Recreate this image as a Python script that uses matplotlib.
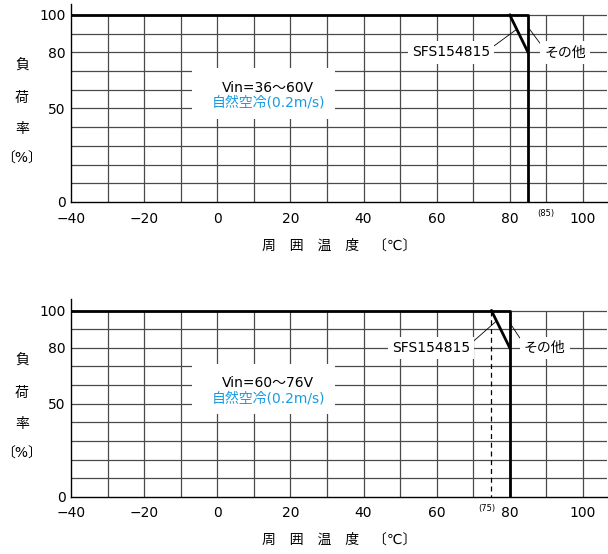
import matplotlib
matplotlib.use('Agg')
import matplotlib.pyplot as plt
from matplotlib.patches import Rectangle

plt.rcParams['font.family'] = ['DejaVu Sans', 'Noto Sans CJK JP']

# データ（読み取り値）
x_ticks = [-40, -20, 0, 20, 40, 60, 80, 100]
x_ticklabels = ['−40', '−20', '0', '20', '40', '60', '80', '100']
y_ticks = [0, 50, 80, 100]
y_ticklabels = ['0', '50', '80', '100']

# 上段: Vin=36~60V
other1_t = [-40, 85, 85]
other1_load = [100, 100, 0]
sfs1_t = [80, 85]
sfs1_load = [100, 80]

# 下段: Vin=60~76V
other2_t = [-40, 80, 80]
other2_load = [100, 100, 0]
sfs2_t = [75, 80]
sfs2_load = [100, 80]
dash2_t = [75, 75]
dash2_load = [100, 0]

grid_x = list(range(-40, 101, 10))
grid_y = list(range(0, 101, 10))

BLUE = '#1a9be0'
GRID = '#4a4a4a'

fig = plt.figure(figsize=(6.08, 5.54), dpi=100)
ax1 = fig.add_axes([0.1168, 0.6354, 0.8816, 0.3578])
ax2 = fig.add_axes([0.1168, 0.1034, 0.8816, 0.3560])


def setup(ax, vin, sub_t, sub_label, sfs_pos, sfs_tip, oth_pos, oth_tip):
    ax.set_xlim(-40, 106.6)
    ax.set_ylim(0, 106)
    for s in ['top', 'right']:
        ax.spines[s].set_visible(False)
    ax.spines['left'].set_linewidth(1.0)
    ax.spines['bottom'].set_linewidth(1.0)
    ax.tick_params(length=0, labelsize=10)
    ax.tick_params(axis='x', pad=7)
    ax.tick_params(axis='y', pad=4)
    ax.set_xticks(x_ticks)
    ax.set_xticklabels(x_ticklabels)
    ax.set_yticks(y_ticks)
    ax.set_yticklabels(y_ticklabels)

    # グリッド
    ax.hlines(grid_y[1:], -40, 106.6, color=GRID, lw=0.9, zorder=1)
    ax.vlines(grid_x[1:], 0, 100, color=GRID, lw=0.9, zorder=1)

    # 条件テキストの白抜き
    ax.add_patch(Rectangle((-6.9, 44.5), 39.1, 27.0, facecolor='white',
                           edgecolor='none', zorder=3))
    ax.text(13.9, 61, vin, ha='center', va='center', fontsize=10, zorder=4)
    ax.text(13.9, 53, '自然空冷(0.2m/s)', ha='center', va='center',
            fontsize=10, color=BLUE, zorder=4)

    # 軸ラベル
    for ch, yy in zip(['負', '荷', '率', '〔%〕'], [73.5, 55.7, 39.0, 23.0]):
        ax.text(-53.4, yy, ch, ha='center', va='center', fontsize=10,
                clip_on=False)
    ax.set_xlabel('周　囲　温　度　〔℃〕', fontsize=10, labelpad=9)

    ax.text(sub_t, -4.0, sub_label, ha='center', va='top', fontsize=6)

    # 注記
    ax.annotate('SFS154815', xy=sfs_tip, xytext=sfs_pos, ha='center',
                va='center', fontsize=10, zorder=4,
                bbox=dict(boxstyle='square,pad=0.3', fc='white', ec='none'),
                arrowprops=dict(arrowstyle='-', color='black', lw=0.6,
                                shrinkA=0, shrinkB=0,
                                relpos=(1.0, 0.75)))
    ax.annotate('その他', xy=oth_tip, xytext=oth_pos, ha='center',
                va='center', fontsize=10, zorder=4,
                bbox=dict(boxstyle='square,pad=0.3', fc='white', ec='none'),
                arrowprops=dict(arrowstyle='-', color='black', lw=0.6,
                                shrinkA=0, shrinkB=0,
                                relpos=(0.0, 0.75)))


setup(ax1, 'Vin=36～60V', 89.9, '(85)',
      (63.9, 80), (82.0, 92.5), (95.1, 80), (85.0, 93.5))
ax1.plot(other1_t, other1_load, color='black', lw=2.0, zorder=5)
ax1.plot(sfs1_t, sfs1_load, color='black', lw=2.0, zorder=5)

setup(ax2, 'Vin=60～76V', 73.8, '(75)',
      (58.4, 80), (76.4, 94.5), (89.6, 80), (80.0, 93.5))
ax2.plot(other2_t, other2_load, color='black', lw=2.0, zorder=5)
ax2.plot(sfs2_t, sfs2_load, color='black', lw=2.0, zorder=5)
ax2.plot(dash2_t, dash2_load, color='black', lw=0.9, ls=(0, (4, 3)), zorder=2)

fig.savefig('out.png', dpi=100)
